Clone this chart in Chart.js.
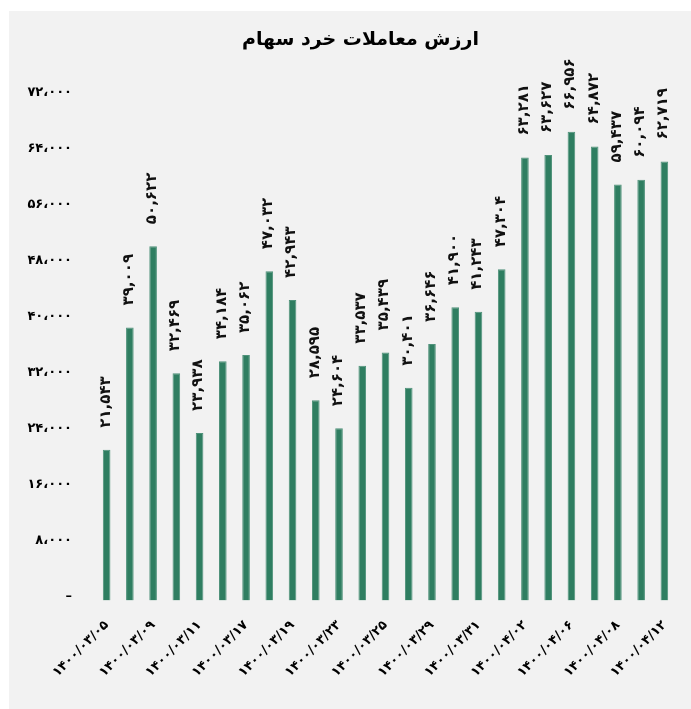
<!DOCTYPE html>
<html lang="fa">
<head>
<meta charset="utf-8">
<title>ارزش معاملات خرد سهام</title>
<script src="https://cdn.jsdelivr.net/npm/chart.js@4/dist/chart.umd.min.js"></script>
<style>
  html, body { margin: 0; padding: 0; background: #ffffff; }
  #panel {
    position: absolute;
    left: 9px;
    top: 11px;
    width: 682px;
    height: 698px;
    background: #f2f2f2;
  }
</style>
</head>
<body>
<div id="panel"><canvas id="chart"></canvas></div>
<script>
// data
const chartTitle = "ارزش معاملات خرد سهام";

const tradeDates = [
  "1400/03/05", "1400/03/08", "1400/03/09", "1400/03/10", "1400/03/11",
  "1400/03/16", "1400/03/17", "1400/03/18", "1400/03/19", "1400/03/22",
  "1400/03/23", "1400/03/24", "1400/03/25", "1400/03/26", "1400/03/29",
  "1400/03/30", "1400/03/31", "1400/04/01", "1400/04/02", "1400/04/05",
  "1400/04/06", "1400/04/07", "1400/04/08", "1400/04/09", "1400/04/12",
];

const retailValues = [
  21543, 39009, 50622, 32469, 23938,
  34184, 35062, 47032, 42943, 28595,
  24604, 33537, 35439, 30401, 36646,
  41900, 41243, 47304, 63281, 63627,
  66956, 64872, 59437, 60094, 62719,
];

const yTickStep = 8000;
const yMax = 72000;

//helper functions
const persianDigits = "۰۱۲۳۴۵۶۷۸۹";
const toPersian = (str) =>
  String(str).replace(/[0-9]/g, (d) => persianDigits[Number(d)]);

const formatNumber = (value, sep) =>
  toPersian(String(value).replace(/\B(?=(\d{3})+(?!\d))/g, sep));

// title sits a little right of the panel centre in the original
const titleNudgePlugin = {
  id: "titleNudge",
  afterLayout(chart) {
    if (chart.titleBlock) {
      chart.titleBlock.left += 18;
      chart.titleBlock.right += 18;
    }
  },
};

// values written over the bars, rotated to read bottom-up
const barLabelsPlugin = {
  id: "barLabels",
  afterDatasetsDraw(chart) {
    const { ctx } = chart;
    const meta = chart.getDatasetMeta(0);
    ctx.save();
    ctx.fillStyle = "#111111";
    ctx.font = "bold 15px 'DejaVu Sans'";
    ctx.textAlign = "left";
    ctx.textBaseline = "middle";
    meta.data.forEach((bar, i) => {
      ctx.save();
      ctx.translate(bar.x - 1, bar.y - 22);
      ctx.rotate(-Math.PI / 2);
      ctx.fillText(formatNumber(retailValues[i], ","), 0, 0);
      ctx.restore();
    });
    ctx.restore();
  },
};

const config = {
  type: "bar",
  data: {
    labels: tradeDates.map(toPersian),
    datasets: [
      {
        label: chartTitle,
        data: retailValues,
        backgroundColor: "#2f7e61",
        borderColor: "#4f927a",
        borderWidth: 1,
        barPercentage: 0.8,
        categoryPercentage: 0.41,
      },
    ],
  },
  options: {
    responsive: true,
    maintainAspectRatio: false,
    animation: false,
    layout: {
      padding: { left: 0, right: 15, top: 0, bottom: 8.5 },
    },
    plugins: {
      legend: { display: false },
      tooltip: { enabled: false },
      title: {
        display: true,
        text: chartTitle,
        color: "#000000",
        font: { family: "'DejaVu Sans'", size: 19, weight: "bold" },
        padding: { top: 18, bottom: 44.7 },
      },
    },
    scales: {
      x: {
        grid: { display: false, drawTicks: false },
        border: { display: false },
        afterFit: (scale) => {
          scale.height = 100;
          scale.paddingLeft = 0;
          scale.paddingRight = 0;
        },
        ticks: {
          autoSkip: false,
          maxRotation: 45,
          minRotation: 45,
          padding: 17,
          color: "#000000",
          font: { family: "'DejaVu Sans'", size: 13, weight: "bold" },
          callback: function (val, index) {
            return index % 2 === 0 ? this.getLabelForValue(val) : "";
          },
        },
      },
      y: {
        min: 0,
        max: yMax,
        grid: { display: false, drawTicks: false },
        border: { display: false },
        afterFit: (scale) => {
          scale.width = 86;
          scale.paddingTop = 0;
          scale.paddingBottom = 0;
        },
        ticks: {
          stepSize: yTickStep,
          padding: 23,
          labelOffset: -3.5,
          color: "#000000",
          font: { family: "'DejaVu Sans'", size: 13, weight: "bold" },
          callback: (value) => (value === 0 ? "–" : formatNumber(value, "،")),
        },
      },
    },
  },
  plugins: [titleNudgePlugin, barLabelsPlugin],
};

new Chart(document.getElementById("chart"), config);
</script>
</body>
</html>
